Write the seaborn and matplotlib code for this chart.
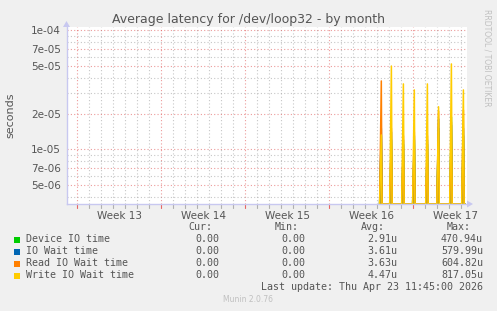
import numpy as np
import pandas as pd
import matplotlib
matplotlib.use("Agg")
import matplotlib.pyplot as plt
import seaborn as sns

# ---------------- data ----------------
title = "Average latency for /dev/loop32 - by month"
series_names = ["Device IO time", "IO Wait time", "Read IO Wait time", "Write IO Wait time"]
series_colors = ["#00cc00", "#0066b3", "#ff8000", "#ffcc00"]

# days counted from the Monday starting week 13
spike_days = [25.33, 26.17, 27.17, 28.08, 29.17, 30.10, 31.17, 32.17]
device_peaks = [1.30e-5, 1.20e-5, 1.10e-5, 1.20e-5, 1.10e-5, 1.50e-5, 1.87e-5, 1.30e-5]
iowait_peaks = [1.50e-5, 1.40e-5, 1.20e-5, 1.30e-5, 1.20e-5, 1.80e-5, 1.60e-5, 1.50e-5]
read_peaks = [3.76e-5, 1.50e-5, 1.30e-5, 1.40e-5, 1.30e-5, 2.10e-5, 1.70e-5, 2.14e-5]
write_peaks = [1.32e-5, 5.02e-5, 3.55e-5, 3.16e-5, 3.55e-5, 2.28e-5, 5.23e-5, 3.16e-5]
data_start_day, data_end_day = 25.2, 32.3

week_labels = ["Week 13", "Week 14", "Week 15", "Week 16", "Week 17"]
ytick_values = [1e-4, 7e-5, 5e-5, 2e-5, 1e-5, 7e-6, 5e-6]
ytick_labels = ["1e-04", "7e-05", "5e-05", "2e-05", "1e-05", "7e-06", "5e-06"]
yminor_values = [9e-5, 8e-5, 6e-5, 4e-5, 3e-5, 9e-6, 8e-6, 6e-6, 4e-6]

cur_vals = ["0.00", "0.00", "0.00", "0.00"]
min_vals = ["0.00", "0.00", "0.00", "0.00"]
avg_vals = ["2.91u", "3.61u", "3.63u", "4.47u"]
max_vals = ["470.94u", "579.99u", "604.82u", "817.05u"]
last_update = "Last update: Thu Apr 23 11:45:00 2026"
footer = "Munin 2.0.76"
side_text = "RRDTOOL / TOBI OETIKER"

# ---------------- build long table ----------------
XMIN, XMAX = -0.9, 32.47
YMIN, YMAX = 3.46e-6, 1.07e-4
half_w = 0.14

peaks_all = [device_peaks, iowait_peaks, read_peaks, write_peaks]
rows = []
for name, peaks in zip(series_names, peaks_all):
    rows.append((name, data_start_day, 0.0))
    for d, p in zip(spike_days, peaks):
        rows.append((name, d - half_w, 0.0))
        rows.append((name, d, p))
        rows.append((name, d + half_w * 0.4, 0.0))
    rows.append((name, data_end_day, 0.0))
df = pd.DataFrame(rows, columns=["series", "day", "value"])
df["shown"] = df["value"].where(df["value"] > 0, YMIN)

# ---------------- figure ----------------
sns.set_theme(style="white")
plt.rcParams["font.family"] = ["DejaVu Sans"]

W, H = 497, 311
fig = plt.figure(figsize=(W / 100, H / 100), dpi=100, facecolor="#f0f0f0")
L, R, T, B = 66.5, 467.0, 27.0, 204.0
ax = fig.add_axes([L / W, 1 - B / H, (R - L) / W, (B - T) / H])
ax.set_facecolor("white")

ax.set_yscale("log")
ax.set_xlim(XMIN, XMAX)
ax.set_ylim(YMIN, YMAX)

# grid
minor_col = (0.6, 0.6, 0.6, 0.55)
major_col = (0.88, 0.35, 0.35, 0.6)
for d in np.arange(0, 33, 1):
    ax.axvline(d, color=major_col if d % 7 == 0 else minor_col,
               lw=0.8, ls=(0, (1, 2)), zorder=0)
for v in yminor_values:
    ax.axhline(v, color=minor_col, lw=0.8, ls=(0, (1, 2)), zorder=0)
for v in ytick_values:
    ax.axhline(v, color=major_col, lw=0.8, ls=(0, (1, 2)), zorder=0)

# fills & lines
for name, col in zip(series_names, series_colors):
    sub = df[df["series"] == name]
    ax.fill_between(sub["day"], YMIN, sub["shown"], color=col, alpha=0.3,
                    lw=0, zorder=1)
sns.lineplot(data=df, x="day", y="shown", hue="series", hue_order=series_names,
             palette=series_colors, estimator=None, sort=False, lw=1.1,
             legend=False, ax=ax, zorder=2)

# ticks
ax.set_yticks(ytick_values)
ax.set_yticklabels(ytick_labels)
ax.yaxis.set_minor_locator(matplotlib.ticker.NullLocator())
ax.set_xticks([3.5 + 7 * i for i in range(len(week_labels))])
ax.set_xticklabels(week_labels)
ax.tick_params(axis="both", length=0, labelsize=7.5, labelcolor="#555555", pad=4)
ax.tick_params(axis="x", pad=5)
ax.set_xlabel("")
ax.set_ylabel("seconds", fontsize=8, color="#555555", labelpad=11)

for s in ["top", "right"]:
    ax.spines[s].set_visible(False)
axis_col = "#c8c8f0"
ax.spines["left"].set_color(axis_col)
ax.spines["bottom"].set_color(axis_col)
ax.spines["left"].set_linewidth(1)
ax.spines["bottom"].set_linewidth(1)

# small tick marks below x axis
for d in np.arange(0, 33, 1):
    ax.plot([d, d], [0, -0.02], transform=ax.get_xaxis_transform(),
            color=(0.9, 0.4, 0.4) if d % 7 == 0 else "#b0b0b0", lw=0.8,
            clip_on=False)
# arrows
fig.patches.append(matplotlib.patches.Polygon(
    [[L - 3.5, H - 27], [L + 3.5, H - 27], [L, H - 21]], closed=True,
    transform=None, facecolor=axis_col, edgecolor="none"))
fig.patches.append(matplotlib.patches.Polygon(
    [[R, H - B - 3.5], [R, H - B + 3.5], [R + 6, H - B]], closed=True,
    transform=None, facecolor=axis_col, edgecolor="none"))

# title and side text
fig.text(248 / W, 1 - 19 / H, title, ha="center", va="center", fontsize=9,
         color="#555555")
fig.text(487 / W, 1 - 58 / H, side_text, ha="center", va="center", fontsize=5.5,
         color="#c0c0c0", rotation=-90)

# legend table
mono = "DejaVu Sans Mono"
fs = 7.2
txt_col = "#555555"
def ft(x, y, s, ha="left", **kw):
    fig.text(x / W, 1 - y / H, s, ha=ha, va="center", fontsize=fs,
             family=mono, color=kw.pop("color", txt_col), **kw)

ft(212.5, 227, "Cur:", ha="right")
ft(298.5, 227, "Min:", ha="right")
ft(384.5, 227, "Avg:", ha="right")
ft(470.5, 227, "Max:", ha="right")
row_y = [239.5, 251.5, 263.5, 275.5]
for i, name in enumerate(series_names):
    y = row_y[i]
    fig.patches.append(matplotlib.patches.Rectangle(
        (14, H - y - 3), 6, 6, transform=None, facecolor=series_colors[i],
        edgecolor="none"))
    ft(26, y, name)
    ft(219.5, y, cur_vals[i], ha="right")
    ft(305.5, y, min_vals[i], ha="right")
    ft(397.5, y, avg_vals[i], ha="right")
    ft(483, y, max_vals[i], ha="right")
ft(483, 287.5, last_update, ha="right")
fig.text(248 / W, 1 - 299.5 / H, footer, ha="center", va="center",
         fontsize=5.5, color="#c0c0c0")

fig.savefig("out.png", dpi=100, facecolor=fig.get_facecolor())
